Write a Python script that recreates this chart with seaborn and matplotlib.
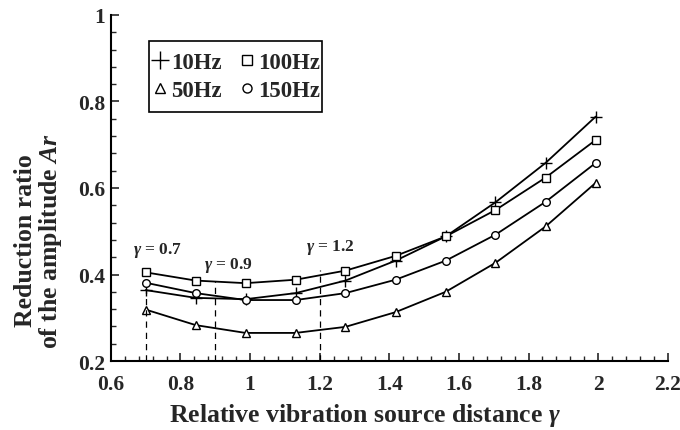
import matplotlib
matplotlib.use("Agg")
import matplotlib.pyplot as plt
from matplotlib.lines import Line2D
from matplotlib.patches import Rectangle
from matplotlib.ticker import MultipleLocator
import seaborn as sns
import pandas as pd

# ---- data ----
gamma = [0.70, 0.844, 0.987, 1.131, 1.274, 1.418, 1.562, 1.705, 1.849, 1.993]
ar_10hz = [0.364, 0.346, 0.343, 0.357, 0.386, 0.432, 0.488, 0.567, 0.658, 0.765]
ar_50hz = [0.319, 0.283, 0.265, 0.265, 0.279, 0.313, 0.360, 0.427, 0.511, 0.612]
ar_100hz = [0.405, 0.386, 0.380, 0.388, 0.409, 0.443, 0.488, 0.549, 0.624, 0.711]
ar_150hz = [0.381, 0.357, 0.341, 0.341, 0.357, 0.388, 0.432, 0.492, 0.568, 0.658]
series_names = ["10Hz", "50Hz", "100Hz", "150Hz"]
series_markers = ["+", "^", "s", "o"]

ref_gamma = [0.7, 0.9, 1.2]
ref_top = [0.362, 0.384, 0.410]
ref_labels = [r"$\mathit{\gamma}$ = 0.7", r"$\mathit{\gamma}$ = 0.9", r"$\mathit{\gamma}$ = 1.2"]
ref_label_x = [0.733, 0.939, 1.232]
ref_label_y = [0.457, 0.422, 0.465]

x_ticks = [0.6, 0.8, 1.0, 1.2, 1.4, 1.6, 1.8, 2.0, 2.2]
x_tick_labels = ["0.6", "0.8", "1", "1.2", "1.4", "1.6", "1.8", "2", "2.2"]
y_ticks = [0.2, 0.4, 0.6, 0.8, 1.0]
y_tick_labels = ["0.2", "0.4", "0.6", "0.8", "1"]

sns.set_theme(style="ticks")
plt.rcParams["font.family"] = ["Liberation Serif", "DejaVu Serif"]
plt.rcParams["font.weight"] = "bold"
plt.rcParams["mathtext.fontset"] = "custom"
plt.rcParams["mathtext.rm"] = "Liberation Serif:bold"
plt.rcParams["mathtext.it"] = "Liberation Serif:italic:bold"
plt.rcParams["mathtext.bf"] = "Liberation Serif:bold"

df = pd.DataFrame({
    "gamma": gamma * 4,
    "ar": ar_10hz + ar_50hz + ar_100hz + ar_150hz,
    "series": sum([[n] * len(gamma) for n in series_names], []),
})

fig = plt.figure(figsize=(6.8, 4.31), dpi=100)
ax = fig.add_axes([0.163, 0.160, 0.819, 0.803])

for name, mk in zip(series_names, series_markers):
    sub = df[df["series"] == name]
    ms = 9 if mk == "+" else 5.5
    sns.lineplot(data=sub, x="gamma", y="ar", ax=ax, color="black", lw=1.3,
                 marker=mk, markersize=ms, markerfacecolor="white",
                 markeredgecolor="black", markeredgewidth=1.0, legend=False)

for gx, gt, lab, lx, ly in zip(ref_gamma, ref_top, ref_labels, ref_label_x, ref_label_y):
    ax.vlines(gx, 0.2, gt, colors="black", linestyles=(0, (5, 4)), lw=0.9)
    ax.text(lx, ly, lab, ha="center", va="center", fontsize=12.5, fontweight="bold")

ax.set_xlim(0.6, 2.2)
ax.set_ylim(0.2, 1.0)
ax.set_xticks(x_ticks)
ax.set_xticklabels(x_tick_labels)
ax.set_yticks(y_ticks)
ax.set_yticklabels(y_tick_labels)
ax.xaxis.set_minor_locator(MultipleLocator(0.04))
ax.yaxis.set_minor_locator(MultipleLocator(0.04))
ax.tick_params(which="major", direction="in", length=6, width=1.2, labelsize=15.5, pad=4)
ax.tick_params(axis="x", which="major", pad=9)
ax.tick_params(which="minor", direction="in", length=3.8, width=1.0)
for lab in ax.get_xticklabels() + ax.get_yticklabels():
    lab.set_fontweight("bold")

for s in ["top", "right"]:
    ax.spines[s].set_visible(False)
for s in ["left", "bottom"]:
    ax.spines[s].set_linewidth(1.5)
    ax.spines[s].set_color("black")

ax.set_xlabel(r"Relative vibration source distance $\mathit{\gamma}$", fontsize=18.5, fontweight="bold")
ax.xaxis.set_label_coords(0.456, -0.115)
ax.set_ylabel("Reduction ratio\n" + r"of the amplitude $\mathit{Ar}$", fontsize=18.5, fontweight="bold",
              linespacing=1.0)
ax.yaxis.set_label_coords(-0.085, 0.35)

# legend frame
box_x0, box_x1, box_y0, box_y1 = 0.068, 0.380, 0.720, 0.925
ax.add_patch(Rectangle((box_x0, box_y0), box_x1 - box_x0, box_y1 - box_y0,
                       transform=ax.transAxes, fill=True, facecolor="white",
                       edgecolor="black", lw=1.2, zorder=4))

handles = [Line2D([], [], color="black", ls="none", marker=mk,
                  markersize=(13 if mk == "+" else 6.5), markerfacecolor="white",
                  markeredgewidth=1.0) for mk in series_markers]
leg = ax.legend(handles, series_names, ncol=2, loc="center",
                bbox_to_anchor=((box_x0 + box_x1) / 2 + 0.001, (box_y0 + box_y1) / 2),
                frameon=False, handlelength=0.7, handletextpad=0.15,
                columnspacing=0.75, borderpad=0.0, labelspacing=0.32,
                borderaxespad=0.0,
                prop={"weight": "bold", "size": 16.5})
leg.set_zorder(5)

fig.savefig("out.png", dpi=100)
